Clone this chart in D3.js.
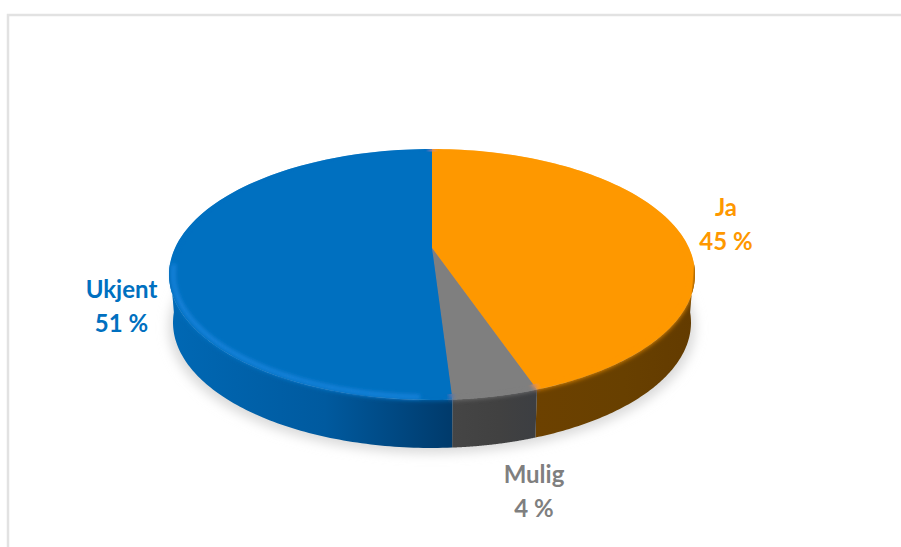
<!DOCTYPE html>
<html>
<head>
<meta charset="utf-8">
<script src="https://cdn.jsdelivr.net/npm/d3@7"></script>
<style>
html, body { margin: 0; padding: 0; background: #fff; }
svg { display: block; }
</style>
</head>
<body>
<svg id="chart" width="901" height="547"></svg>
<script>
const categories = ['Ja', 'Mulig', 'Ukjent'];
const shares = [44.7, 4.3, 51];
const topColors = ['#fe9800', '#7f7f7f', '#0070c0'];
const sideLight = ['#6c4100', '#454545', '#0068b4'];
const sideMid = ['#684000', '#414141', '#005a9f'];
const sideDark = ['#633b00', '#3c3e42', '#003a6b'];
const labelColors = ['#fe9800', '#7f7f7f', '#0070c0'];

const width = 901, height = 547;
const svg = d3.select('#chart');

// frame
svg.append('path')
    .attr('d', `M8,${height}V15H${width}`)
    .attr('fill', 'none')
    .attr('stroke', '#e2e2e2')
    .attr('stroke-width', 2.5);

// the pie is a tilted disc: project the unit circle with a small perspective
const cx = 432, apexY = 248, tilt = 0.2112, radius = 257, yScale = -67.5, depth = 48;
const project = (a, r = 1, s = 1, dy = 0) => {
    let u = r * Math.sin(a), v = r * Math.cos(a), w = 1 + tilt * v;
    return [cx + s * radius * u / w, (apexY + yScale * v) / w + dy];
};
const arcPoints = (a0, a1, r, s, dy) => d3.range(0, 101).map(i => project(a0 + (a1 - a0) * i / 100, r, s, dy));
const line = d3.line();
const circlePath = (r = 1, s = 1, dy = 0) => line(arcPoints(0, Math.PI * 2, r, s, dy)) + 'Z';
const slicePath = (d, r = 1) => line([project(0, 0)].concat(arcPoints(d.startAngle, d.endAngle, r))) + 'Z';

// the wall can be seen between the two widest points of the disc
const frontStart = Math.acos(-tilt) - 0.08, frontEnd = Math.PI * 2 - frontStart;
const wallPath = d => {
    let a0 = Math.max(d.startAngle, frontStart), a1 = Math.min(d.endAngle, frontEnd);
    return line(arcPoints(a0, a1).concat(arcPoints(a1, a0, 1, 0.985, depth))) + 'Z';
};

const pie = d3.pie().sort(null).value(d => d);
const slices = pie(shares);

const defs = svg.append('defs');
const blur = (id, dev) => defs.append('filter').attr('id', id)
    .attr('x', '-10%').attr('y', '-10%').attr('width', '120%').attr('height', '120%')
    .append('feGaussianBlur').attr('stdDeviation', dev);
blur('shadowBlur', 6);
blur('faceBlur', 2.4);
blur('shineBlur', 2.2);

let bodyClip = defs.append('clipPath').attr('id', 'bodyClip');
bodyClip.append('path').attr('d', circlePath());
slices.forEach(d => bodyClip.append('path').attr('d', wallPath(d)));

// gradients for the side wall, one per slice
slices.forEach((d, i) => {
    let pts = arcPoints(Math.max(d.startAngle, frontStart), Math.min(d.endAngle, frontEnd));
    let g = defs.append('linearGradient')
        .attr('id', `side${i}`)
        .attr('gradientUnits', 'userSpaceOnUse')
        .attr('x1', d3.min(pts, p => p[0])).attr('x2', d3.max(pts, p => p[0]))
        .attr('y1', 0).attr('y2', 0);
    g.append('stop').attr('offset', 0).attr('stop-color', sideLight[i]);
    g.append('stop').attr('offset', 0.55).attr('stop-color', sideMid[i]);
    g.append('stop').attr('offset', 1).attr('stop-color', sideDark[i]);
});

// soft shadow under the disc
svg.append('path')
    .attr('d', circlePath(1, 1, depth + 5))
    .attr('fill', '#d8d8d8')
    .attr('filter', 'url(#shadowBlur)');

// sharp face first, so the back edge of the disc stays crisp
svg.append('g').selectAll('path')
    .data(slices)
    .join('path')
    .attr('d', d => slicePath(d))
    .attr('fill', (d, i) => topColors[i]);

// side wall
svg.append('g').selectAll('path')
    .data(slices)
    .join('path')
    .attr('d', wallPath)
    .attr('fill', (d, i) => `url(#side${i})`);

// blurred copy of the face makes the rounded edge into the wall
svg.append('g').attr('clip-path', 'url(#bodyClip)')
    .append('g').attr('filter', 'url(#faceBlur)')
    .selectAll('path')
    .data(slices)
    .join('path')
    .attr('d', d => slicePath(d))
    .attr('fill', (d, i) => topColors[i]);

// sharp face again, a little inside the rim
svg.append('g').selectAll('path')
    .data(slices)
    .join('path')
    .attr('d', d => slicePath(d, 0.97))
    .attr('fill', (d, i) => topColors[i]);

// highlight along the rim of the blue slice
svg.append('path')
    .attr('d', line(arcPoints(Math.max(slices[2].startAngle, frontStart) + 0.1, frontEnd, 0.985)))
    .attr('fill', 'none')
    .attr('stroke', '#2a90ee')
    .attr('stroke-width', 3)
    .attr('stroke-opacity', 0.85)
    .attr('filter', 'url(#shineBlur)');

// labels
const labelX = [726, 534, 121.5];
const labelY = [216, 483, 298];
const labels = svg.append('g')
    .attr('font-family', 'Lato, "Open Sans", sans-serif')
    .attr('font-weight', 700)
    .attr('font-size', 24)
    .attr('text-anchor', 'middle');
categories.forEach((name, i) => {
    let t = labels.append('text').attr('fill', labelColors[i]);
    t.append('tspan').attr('x', labelX[i]).attr('y', labelY[i]).text(name);
    t.append('tspan').attr('x', labelX[i]).attr('y', labelY[i] + 34).text(Math.round(shares[i]) + ' %');
});
</script>
</body>
</html>
